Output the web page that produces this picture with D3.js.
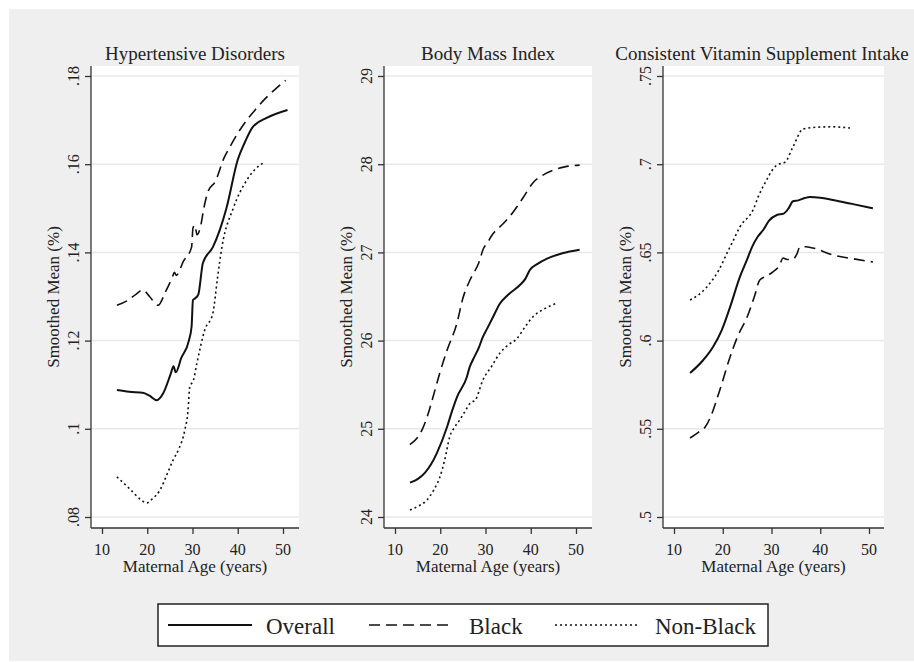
<!DOCTYPE html>
<meta charset="utf-8">
<head>
    <title>Smoothed Means by Maternal Age</title>
    <script type="text/javascript" src="https://cdn.jsdelivr.net/npm/d3@7"></script>
    <style>
        body { margin: 0; background: #fff; }
        text { font-family: "Liberation Serif", "Times New Roman", serif; fill: #222; }
    </style>
</head>
<body>
<div id="chart"></div>
<script>

    // data: [maternal age, smoothed mean]
    var hypOverall = [[13.3, .1088], [16, .1084], [19, .1082], [20.5, .1075], [22.1, .1065], [23.5, .108],
        [25.2, .1125], [25.8, .1142], [26.3, .1128], [27.5, .1160], [29.2, .1200], [29.8, .1232],
        [30.1, .1292], [30.6, .1296], [31.3, .1305], [32.3, .1376], [34.5, .1412], [36, .1450],
        [37.5, .1500], [40, .1610], [41.5, .1648], [43.3, .1684], [46.4, .1705], [51, .1723]];
    var hypBlack = [[13.3, .1280], [15.5, .1290], [17.5, .1305], [19, .1315], [20.5, .1300], [22.4, .1280],
        [24, .1310], [25.6, .1345], [26, .1355], [26.4, .1348], [28, .1380], [29.8, .1412], [30.1, .1455],
        [30.5, .1462], [31, .1440], [31.8, .1460], [32.5, .1500], [33.5, .1540], [35, .1560],
        [37, .1615], [38.3, .1640], [40, .1670], [42, .1700], [44, .1725], [46.4, .1752], [48.5, .1772], [50.6, .1790]];
    var hypNonBlack = [[13.3, .0891], [16, .0865], [18.5, .0840], [19.9, .0832], [21, .0840], [22.8, .0861],
        [24.5, .0900], [25.7, .0929], [27, .0955], [28.3, .0997], [29, .1040], [29.4, .1095],
        [30.2, .1110], [31, .1150], [32.7, .1224], [34.5, .1262], [35.5, .1340], [36.5, .1412],
        [39, .1500], [42, .1564], [44, .1590], [46, .1605]];

    var bmiOverall = [[13.3, 24.39], [15, 24.43], [16.6, 24.50], [18, 24.60], [19.3, 24.73], [21.5, 25.02],
        [22.6, 25.20], [23.7, 25.36], [25.9, 25.59], [26.5, 25.70], [27.2, 25.78], [28.6, 25.93], [29.4, 26.04],
        [30.3, 26.13], [31.5, 26.25], [33.2, 26.42], [35, 26.52], [37.6, 26.63], [38.8, 26.70], [39.8, 26.80],
        [41.5, 26.87], [43.6, 26.93], [47, 26.99], [50.8, 27.03]];
    var bmiBlack = [[13.3, 24.82], [16, 24.99], [17.2, 25.15], [18.4, 25.36], [20, 25.65], [21.5, 25.89],
        [23.7, 26.20], [25, 26.48], [26.6, 26.69], [28.5, 26.88], [29.6, 27.05], [30.3, 27.10], [31.5, 27.20],
        [34, 27.33], [36, 27.45], [38.3, 27.62], [40.5, 27.79], [42.5, 27.87], [44.9, 27.93], [47.5, 27.97], [50.8, 27.99]];
    var bmiNonBlack = [[13.3, 24.08], [15, 24.12], [17, 24.19], [18.5, 24.30], [19.9, 24.45], [21, 24.65],
        [22.1, 24.91], [23.2, 25.02], [24.3, 25.10], [25.5, 25.20], [26.6, 25.29], [27.8, 25.33], [29.4, 25.55],
        [31.5, 25.72], [33.2, 25.86], [35, 25.95], [36.9, 26.02], [38.8, 26.16], [40.5, 26.27], [43, 26.36], [46, 26.43]];

    var vitOverall = [[13.3, .5816], [16, .5890], [18, .5964], [19.8, .6060], [21.5, .6190], [23.5, .6360],
        [25, .6460], [26, .6530], [27.2, .6590], [28.3, .6627], [29.5, .6680], [31.1, .6712], [32.5, .6720],
        [33.5, .6750], [34.4, .6790], [35.5, .6795], [36.8, .6808], [37.9, .6814], [40, .6810], [42.6, .6797],
        [46.5, .6775], [50.8, .6750]];
    var vitBlack = [[13.3, .5448], [15, .5480], [16.4, .5510], [17.4, .5561], [19.4, .5720], [21.5, .5907],
        [23, .6020], [25, .6134], [26.5, .6250], [27.6, .6344], [29, .6365], [30.3, .6390], [31.5, .6420],
        [32.4, .6468], [33.2, .6460], [34.4, .6462], [35.2, .6490], [35.8, .6530], [37, .6532], [38.5, .6525],
        [42.6, .6485], [46.5, .6465], [50.8, .6446]];
    var vitNonBlack = [[13.3, .6230], [15.5, .6270], [17.4, .6326], [19.2, .6400], [20.9, .6497], [22.2, .6570],
        [23.5, .6644], [26.2, .6740], [27.5, .6830], [29, .6910], [30, .6960], [31.1, .6995], [32.8, .7012],
        [34.4, .7098], [36.5, .7200], [39.5, .7210], [42.6, .7212], [46.1, .7205]];

    var xTicks = [10, 20, 30, 40, 50];
    var hypTicks = [.08, .1, .12, .14, .16, .18];
    var hypLabels = [".08", ".1", ".12", ".14", ".16", ".18"];
    var bmiTicks = [24, 25, 26, 27, 28, 29];
    var bmiLabels = ["24", "25", "26", "27", "28", "29"];
    var vitTicks = [.5, .55, .6, .65, .7, .75];
    var vitLabels = [".5", ".55", ".6", ".65", ".7", ".75"];

    var seriesNames = ["Overall", "Black", "Non-Black"];
    var dashes = [null, "11,6", "2,3"];

    var width = 914;
    var height = 662;

    var svg = d3.select("#chart")
        .append("svg")
        .attr("width", width)
        .attr("height", height);

    // gray graph region
    svg.append("rect")
        .attr("x", 9).attr("y", 9)
        .attr("width", width - 9).attr("height", height - 10)
        .attr("fill", "#efefef");

    var panels = [
        { title: "Hypertensive Disorders", titleX: 195, left: 91, right: 299, x10: 102, x50: 283,
          ticks: hypTicks, labels: hypLabels, series: [hypOverall, hypBlack, hypNonBlack] },
        { title: "Body Mass Index", titleX: 488, left: 384, right: 592, x10: 395, x50: 576,
          ticks: bmiTicks, labels: bmiLabels, series: [bmiOverall, bmiBlack, bmiNonBlack] },
        { title: "Consistent Vitamin Supplement Intake", titleX: 762, left: 663, right: 884, x10: 674, x50: 869,
          ticks: vitTicks, labels: vitLabels, series: [vitOverall, vitBlack, vitNonBlack] }
    ];

    var plotTop = 66, plotBottom = 528;
    var tickTop = 76, tickBottom = 517;

    panels.forEach(function (p) {
        var x = d3.scaleLinear().domain([10, 50]).range([p.x10, p.x50]);
        var y = d3.scaleLinear()
            .domain([p.ticks[0], p.ticks[p.ticks.length - 1]])
            .range([tickBottom, tickTop]);

        var g = svg.append("g");

        // white plot region
        g.append("rect")
            .attr("x", p.left).attr("y", plotTop)
            .attr("width", p.right - p.left).attr("height", plotBottom - plotTop)
            .attr("fill", "#fff");

        // horizontal grid
        g.selectAll(".grid")
            .data(p.ticks)
            .enter()
            .append("line")
            .attr("x1", p.left).attr("x2", p.right)
            .attr("y1", function (d) { return y(d); })
            .attr("y2", function (d) { return y(d); })
            .attr("stroke", "#e8e8e8")
            .attr("stroke-width", 1.5);

        // y axis
        var yAxis = g.append("g")
            .attr("transform", "translate(" + p.left + ",0)")
            .call(d3.axisLeft(y).tickValues(p.ticks).tickSize(6).tickSizeOuter(0).tickFormat(""));
        yAxis.select(".domain").attr("d", "M0," + plotTop + "V" + plotBottom);
        yAxis.selectAll("path, line").attr("stroke", "#333").attr("stroke-width", 1.3);

        g.selectAll(".ylab")
            .data(p.ticks)
            .enter()
            .append("text")
            .attr("transform", function (d) { return "translate(" + (p.left - 12) + "," + y(d) + ") rotate(-90)"; })
            .attr("text-anchor", "middle")
            .style("font-size", "16px")
            .text(function (d, i) { return p.labels[i]; });

        // x axis
        var xAxis = g.append("g")
            .attr("transform", "translate(0," + plotBottom + ")")
            .call(d3.axisBottom(x).tickValues(xTicks).tickSize(6).tickSizeOuter(0).tickFormat(""));
        xAxis.select(".domain").attr("d", "M" + p.left + ",0H" + p.right);
        xAxis.selectAll("path, line").attr("stroke", "#333").attr("stroke-width", 1.3);

        g.selectAll(".xlab")
            .data(xTicks)
            .enter()
            .append("text")
            .attr("x", function (d) { return x(d); })
            .attr("y", 555)
            .attr("text-anchor", "middle")
            .style("font-size", "16px")
            .text(function (d) { return d; });

        // axis titles
        g.append("text")
            .attr("x", (p.left + p.right) / 2)
            .attr("y", 572)
            .attr("text-anchor", "middle")
            .style("font-size", "17px")
            .text("Maternal Age (years)");

        g.append("text")
            .attr("transform", "translate(" + (p.left - 32) + "," + ((plotTop + plotBottom) / 2) + ") rotate(-90)")
            .attr("text-anchor", "middle")
            .style("font-size", "17px")
            .text("Smoothed Mean (%)");

        g.append("text")
            .attr("x", p.titleX)
            .attr("y", 60)
            .attr("text-anchor", "middle")
            .style("font-size", "19px")
            .text(p.title);

        // lines
        var line = d3.line()
            .x(function (d) { return x(d[0]); })
            .y(function (d) { return y(d[1]); })
            .curve(d3.curveMonotoneX);

        p.series.forEach(function (s, i) {
            g.append("path")
                .datum(s)
                .attr("d", line)
                .attr("fill", "none")
                .attr("stroke", "#111")
                .attr("stroke-width", i === 0 ? 2 : 1.6)
                .attr("stroke-dasharray", dashes[i]);
        });
    });

    // legend
    var legend = svg.append("g");
    legend.append("rect")
        .attr("x", 158).attr("y", 604)
        .attr("width", 610).attr("height", 42)
        .attr("fill", "#fff")
        .attr("stroke", "#222")
        .attr("stroke-width", 1.5);

    var legendLineX = [168, 369, 555];
    var legendTextX = [266, 469, 655];

    seriesNames.forEach(function (name, i) {
        legend.append("line")
            .attr("x1", legendLineX[i]).attr("x2", legendLineX[i] + 84)
            .attr("y1", 625).attr("y2", 625)
            .attr("stroke", "#111")
            .attr("stroke-width", i === 0 ? 2 : 1.6)
            .attr("stroke-dasharray", dashes[i]);
        legend.append("text")
            .attr("x", legendTextX[i])
            .attr("y", 634)
            .style("font-size", "23px")
            .text(name);
    });

</script>
</body>
</html>
